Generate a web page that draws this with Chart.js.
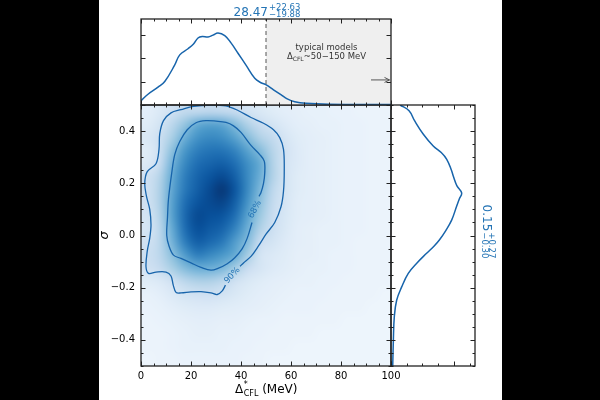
<!DOCTYPE html>
<html>
<head>
<meta charset="utf-8">
<script src="https://cdn.jsdelivr.net/npm/chart.js@4/dist/chart.umd.min.js"></script>
<style>
html, body { margin: 0; padding: 0; background: #000; }
#wrap { position: relative; width: 600px; height: 400px; background: #000; overflow: hidden; }
#paper { position: absolute; left: 99px; top: 0; width: 403px; height: 400px; background: #fff; }
canvas { position: absolute; left: 0; top: 0; }
</style>
</head>
<body>
<div id="wrap">
  <div id="paper"></div>
  <canvas id="main" width="600" height="400"></canvas>
  <canvas id="top" width="600" height="400"></canvas>
  <canvas id="side" width="600" height="400"></canvas>
</div>
<script>
const FONT = "'DejaVu Sans', sans-serif";
const LINE = '#1764ab';
const LABEL_BLUE = '#2474b5';

// marginal posterior of Delta_CFL (top panel)
const topMev = [0, 2.8, 6.8, 9.5, 13.5, 15.5, 18.8, 21, 22.8, 24.5, 26.8, 28.8, 30.8, 33.5, 36, 38.8, 42, 45.5, 48, 50.1, 53, 56.1, 58.5, 61.5, 66, 75, 100];
const topDensity = [0.18, 0.46, 0.76, 1.0, 1.71, 2.14, 2.4, 2.6, 2.86, 2.92, 2.9, 2.98, 3.07, 2.96, 2.65, 2.21, 1.7, 1.14, 0.95, 0.86, 0.65, 0.43, 0.26, 0.14, 0.07, 0.03, 0.02];

// marginal posterior of sigma (right panel)
const sideSigma = [0.5, 0.478, 0.44, 0.388, 0.343, 0.318, 0.292, 0.25, 0.227, 0.19, 0.163, 0.14, 0.112, 0.06, 0.02, -0.017, -0.04, -0.068, -0.106, -0.145, -0.197, -0.248, -0.312, -0.402, -0.5];
const sideDensity = [0.58, 1.15, 1.5, 2.06, 2.69, 3.2, 3.55, 3.85, 3.97, 4.2, 4.5, 4.35, 4.18, 3.87, 3.5, 3.08, 2.75, 2.27, 1.64, 1.1, 0.68, 0.36, 0.21, 0.15, 0.11];

// 2-D posterior, % of peak: rows = sigma bin centres (top to bottom), cols = MeV bin centres
const gridMev = [2.5, 7.5, 12.5, 17.5, 22.5, 27.5, 32.5, 37.5, 42.5, 47.5, 52.5, 57.5, 62.5, 67.5, 72.5, 77.5, 82.5, 87.5, 92.5, 97.5];
const gridSigma = [0.475, 0.425, 0.375, 0.325, 0.275, 0.225, 0.175, 0.125, 0.075, 0.025, -0.025, -0.075, -0.125, -0.175, -0.225, -0.275, -0.325, -0.375, -0.425, -0.475];
const density = [
  [10, 14, 20, 26, 26, 27, 26, 24, 19, 15, 12, 10, 9, 8, 8, 7, 7, 6, 6, 6],
  [12, 18, 28, 40, 52, 56, 54, 44, 32, 24, 18, 13, 10, 9, 8, 8, 7, 7, 6, 6],
  [15, 22, 34, 50, 62, 66, 64, 56, 44, 32, 26, 17, 12, 10, 9, 8, 7, 7, 6, 6],
  [12, 22, 42, 60, 70, 74, 74, 68, 56, 44, 30, 20, 13, 10, 9, 8, 7, 7, 6, 6],
  [14, 24, 48, 66, 76, 80, 82, 76, 64, 52, 32, 19, 13, 10, 9, 8, 7, 7, 6, 6],
  [20, 30, 52, 70, 80, 86, 90, 82, 66, 50, 32, 19, 12, 10, 9, 8, 7, 7, 6, 6],
  [20, 32, 54, 72, 82, 90, 97, 86, 66, 46, 28, 18, 12, 10, 9, 8, 7, 7, 6, 6],
  [20, 32, 56, 76, 86, 90, 92, 82, 62, 42, 26, 17, 11, 10, 9, 8, 7, 7, 6, 6],
  [18, 30, 56, 78, 90, 88, 86, 76, 56, 38, 24, 16, 11, 10, 9, 8, 7, 7, 6, 6],
  [17, 28, 52, 76, 88, 84, 80, 68, 50, 32, 22, 15, 10, 9, 8, 8, 7, 7, 6, 6],
  [20, 28, 48, 70, 82, 78, 72, 58, 44, 24, 18, 13, 10, 9, 8, 8, 7, 6, 6, 6],
  [22, 28, 42, 58, 70, 66, 60, 52, 36, 18, 14, 12, 9, 9, 8, 7, 7, 6, 6, 6],
  [20, 25, 34, 44, 50, 50, 46, 36, 24, 17, 13, 11, 9, 8, 8, 7, 7, 6, 6, 6],
  [12, 14, 20, 28, 32, 32, 28, 20, 15, 12, 10, 9, 8, 8, 7, 7, 6, 6, 6, 6],
  [8, 10, 14, 18, 20, 21, 19, 15, 12, 10, 9, 8, 7, 7, 7, 6, 6, 6, 6, 5],
  [7, 8, 10, 12, 13, 13, 12, 11, 10, 9, 8, 7, 7, 7, 6, 6, 6, 6, 5, 5],
  [6, 7, 8, 9, 10, 10, 9, 9, 8, 7, 7, 6, 6, 6, 6, 6, 5, 5, 5, 5],
  [6, 6, 7, 8, 9, 9, 8, 8, 7, 7, 6, 6, 6, 6, 5, 5, 5, 5, 5, 5],
  [6, 6, 7, 8, 8, 8, 8, 7, 7, 6, 6, 6, 5, 5, 5, 5, 5, 5, 5, 5],
  [5, 6, 6, 7, 7, 7, 7, 7, 6, 6, 5, 5, 5, 5, 5, 5, 5, 5, 5, 5]
];

// credible-region contours (open where the label sits)
const c68Mev = [44.4, 42.5, 40.5, 37.5, 34.5, 31, 28, 24, 20, 16, 13, 11.2, 10.3, 10.6, 11, 12.3, 13.5, 15.5, 18.5, 22, 26, 30, 34, 37, 40, 44, 47.5, 49.3, 49.5, 49, 48, 47.2];
const c68Sigma = [0.05, -0.01, -0.05, -0.085, -0.108, -0.125, -0.133, -0.122, -0.105, -0.088, -0.075, -0.04, 0.0, 0.07, 0.14, 0.24, 0.31, 0.36, 0.405, 0.432, 0.44, 0.438, 0.433, 0.42, 0.395, 0.345, 0.31, 0.285, 0.24, 0.2, 0.165, 0.15];
const c90Mev = [33.8, 32.5, 30.5, 28, 24, 20, 16, 14, 12.9, 12, 10, 6, 3, 2, 2.5, 3.5, 4, 3.5, 2.2, 1.5, 2.5, 6, 7.2, 7.5, 9, 12, 16, 21, 28, 34, 39, 44, 49, 53, 55.5, 57, 57.3, 57, 56, 53.5, 50, 47, 44, 41, 39.6];
const c90Sigma = [-0.19, -0.212, -0.226, -0.22, -0.215, -0.216, -0.22, -0.218, -0.19, -0.155, -0.14, -0.14, -0.145, -0.12, -0.06, -0.01, 0.04, 0.1, 0.15, 0.2, 0.245, 0.275, 0.33, 0.39, 0.44, 0.47, 0.482, 0.495, 0.5, 0.497, 0.478, 0.452, 0.43, 0.405, 0.375, 0.33, 0.25, 0.17, 0.11, 0.05, 0.005, -0.04, -0.08, -0.105, -0.118];

const mevTicks = [0, 20, 40, 60, 80, 100];
const sigmaTicks = [-0.4, -0.2, 0, 0.2, 0.4];
const topTicks = [0, 1, 2, 3];
const sideTicks = [0, 4];
const deltaSummary = ['28.47', '+22.63', '\u221219.88'];
const sigmaSummary = ['0.15', '+0.27', '\u22120.30'];
const modelBand = [50, 100];

const BLUES = [[247,251,255],[222,235,247],[198,219,239],[158,202,225],[107,174,214],[66,146,198],[33,113,181],[8,81,156],[8,48,107]];
function blues(t) {
  t = Math.max(0, Math.min(1, t));
  const p = t * 8, i = Math.min(7, Math.floor(p)), f = p - i;
  return BLUES[i].map((c, k) => Math.round(c + (BLUES[i + 1][k] - c) * f));
}
function steps(a, b, s) { const out = []; for (let v = a; v <= b + 1e-9; v += s) out.push(+v.toFixed(4)); return out; }
function pts(xs, ys) { return xs.map((x, i) => ({ x: x, y: ys[i] })); }

function frameTicks(cfg) {
  return {
    id: 'frameTicks',
    afterDraw(chart) {
      const { ctx, chartArea: a, scales: { x, y } } = chart;
      ctx.save();
      ctx.strokeStyle = '#222';
      ctx.lineWidth = 1;
      const seg = (x1, y1, x2, y2) => { ctx.beginPath(); ctx.moveTo(x1, y1); ctx.lineTo(x2, y2); ctx.stroke(); };
      [[cfg.xMajor, 4.5], [cfg.xMinor, 2.5]].forEach(([vals, len]) => vals.forEach(v => {
        const p = Math.round(x.getPixelForValue(v)) + 0.5;
        seg(p, a.bottom, p, a.bottom - len);
        seg(p, a.top, p, a.top + len);
      }));
      [[cfg.yMajor, 4.5], [cfg.yMinor, 2.5]].forEach(([vals, len]) => vals.forEach(v => {
        const p = Math.round(y.getPixelForValue(v)) + 0.5;
        seg(a.left, p, a.left + len, p);
        seg(a.right, p, a.right - len, p);
      }));
      ctx.lineWidth = 1.3;
      ctx.strokeRect(a.left, a.top, a.right - a.left, a.bottom - a.top);
      ctx.restore();
    }
  };
}

function drawScripted(ctx, cx, base, parts, big, small) {
  const [main, sup, sub] = parts;
  ctx.font = big + 'px ' + FONT;
  const wm = ctx.measureText(main).width;
  ctx.font = small + 'px ' + FONT;
  const ws = Math.max(ctx.measureText(sup).width, ctx.measureText(sub).width);
  const x0 = cx - (wm + ws + 1) / 2;
  ctx.textAlign = 'left';
  ctx.textBaseline = 'alphabetic';
  ctx.font = big + 'px ' + FONT;
  ctx.fillText(main, x0, base);
  ctx.font = small + 'px ' + FONT;
  ctx.fillText(sup, x0 + wm + 1, base - big * 0.5);
  ctx.fillText(sub, x0 + wm + 1, base + small * 0.15);
}

const heatmap = {
  id: 'heatmap',
  beforeDatasetsDraw(chart) {
    const { ctx, chartArea: a, scales: { x, y } } = chart;
    const nx = gridMev.length, ny = gridSigma.length;
    const off = document.createElement('canvas');
    off.width = nx; off.height = ny;
    const octx = off.getContext('2d');
    const img = octx.createImageData(nx, ny);
    for (let r = 0; r < ny; r++) for (let c = 0; c < nx; c++) {
      const col = blues(density[r][c] / 100), k = (r * nx + c) * 4;
      img.data[k] = col[0]; img.data[k + 1] = col[1]; img.data[k + 2] = col[2]; img.data[k + 3] = 255;
    }
    octx.putImageData(img, 0, 0);
    const hx = (gridMev[1] - gridMev[0]) / 2, hy = (gridSigma[0] - gridSigma[1]) / 2;
    const x0 = x.getPixelForValue(gridMev[0] - hx), x1 = x.getPixelForValue(gridMev[nx - 1] + hx);
    const y0 = y.getPixelForValue(gridSigma[0] + hy), y1 = y.getPixelForValue(gridSigma[ny - 1] - hy);
    ctx.save();
    ctx.beginPath(); ctx.rect(a.left, a.top, a.right - a.left, a.bottom - a.top); ctx.clip();
    ctx.fillStyle = 'rgb(' + blues(0.06).join(',') + ')';
    ctx.fillRect(a.left, a.top, a.right - a.left, a.bottom - a.top);
    ctx.imageSmoothingEnabled = true;
    ctx.imageSmoothingQuality = 'high';
    ctx.drawImage(off, x0, y0, x1 - x0, y1 - y0);
    ctx.restore();
  },
  afterDatasetsDraw(chart) {
    const { ctx, scales: { x, y } } = chart;
    ctx.save();
    ctx.fillStyle = LABEL_BLUE;
    ctx.font = '8.5px ' + FONT;
    ctx.textAlign = 'center';
    ctx.textBaseline = 'middle';
    [['68%', 45.6, 0.1, -62], ['90%', 36.5, -0.153, -47]].forEach(([t, mx, sy, ang]) => {
      ctx.save();
      ctx.translate(x.getPixelForValue(mx), y.getPixelForValue(sy));
      ctx.rotate(ang * Math.PI / 180);
      ctx.fillText(t, 0, 0);
      ctx.restore();
    });
    ctx.restore();
  },
  afterDraw(chart) {
    const { ctx, chartArea: a } = chart;
    ctx.save();
    ctx.fillStyle = '#000';
    // x title: Delta*_CFL (MeV)
    const cx = (a.left + a.right) / 2, base = 393;
    ctx.textAlign = 'left'; ctx.textBaseline = 'alphabetic';
    ctx.font = '12px ' + FONT;
    const wD = ctx.measureText('\u0394').width, wR = ctx.measureText(' (MeV)').width;
    ctx.font = '8px ' + FONT;
    const wS = Math.max(ctx.measureText('*').width, ctx.measureText('CFL').width);
    const x0 = cx - (wD + wS + wR) / 2;
    ctx.font = '12px ' + FONT;
    ctx.fillText('\u0394', x0, base);
    ctx.fillText(' (MeV)', x0 + wD + wS + 0.5, base);
    ctx.font = '8px ' + FONT;
    ctx.fillText('*', x0 + wD + 0.5, base - 6);
    ctx.fillText('CFL', x0 + wD + 0.5, base + 2.5);
    // y title: sigma
    ctx.save();
    ctx.translate(108, (a.top + a.bottom) / 2);
    ctx.rotate(-Math.PI / 2);
    ctx.textAlign = 'center';
    ctx.font = 'italic 13px ' + FONT;
    ctx.fillText('\u03c3', 0, 0);
    ctx.restore();
    ctx.restore();
  }
};

const fmtSigma = v => (Math.abs(v) < 1e-9 ? '0.0' : (v < 0 ? '\u2212' : '') + Math.abs(v).toFixed(1));

new Chart(document.getElementById('main'), {
  type: 'scatter',
  data: {
    datasets: [
      { data: pts(c90Mev, c90Sigma), showLine: true, borderColor: LINE, borderWidth: 1.3, pointRadius: 0, tension: 0.35 },
      { data: pts(c68Mev, c68Sigma), showLine: true, borderColor: LINE, borderWidth: 1.3, pointRadius: 0, tension: 0.35 }
    ]
  },
  options: {
    responsive: false, animation: false, devicePixelRatio: 1,
    layout: { padding: { left: 111, right: 209, top: 105, bottom: 14 } },
    plugins: { legend: { display: false }, tooltip: { enabled: false } },
    scales: {
      x: {
        type: 'linear', min: 0, max: 100,
        afterBuildTicks: s => { s.ticks = mevTicks.map(v => ({ value: v })); },
        afterFit: s => { s.height = 20; },
        grid: { display: false, drawTicks: false }, border: { display: false },
        ticks: { font: { family: FONT, size: 10 }, color: '#000', padding: 4, maxRotation: 0, autoSkip: false }
      },
      y: {
        type: 'linear', min: -0.5, max: 0.5,
        afterBuildTicks: s => { s.ticks = sigmaTicks.map(v => ({ value: v })); },
        afterFit: s => { s.width = 30; },
        grid: { display: false, drawTicks: false }, border: { display: false },
        ticks: { font: { family: FONT, size: 10 }, color: '#000', padding: 6, autoSkip: false, callback: v => fmtSigma(v) }
      }
    }
  },
  plugins: [heatmap, frameTicks({ xMajor: mevTicks, xMinor: steps(0, 100, 5), yMajor: sigmaTicks, yMinor: steps(-0.5, 0.5, 0.05) })]
});

const TOP_YMAX = 3.67;
const topText = {
  id: 'topText',
  afterDraw(chart) {
    const { ctx, chartArea: a, scales: { x, y } } = chart;
    ctx.save();
    ctx.fillStyle = LABEL_BLUE;
    drawScripted(ctx, (a.left + a.right) / 2 + 1, 15.5, deltaSummary, 12, 8.5);
    // annotation in shaded band
    const cx = x.getPixelForValue((modelBand[0] + modelBand[1]) / 2) - 2;
    ctx.fillStyle = '#333';
    ctx.textAlign = 'center'; ctx.textBaseline = 'alphabetic';
    ctx.font = '8.5px ' + FONT;
    ctx.fillText('typical models', cx, 50);
    const s1 = '\u0394', s2 = 'CFL', s3 = '~50\u2212150 MeV';
    const w1 = ctx.measureText(s1).width, w3 = ctx.measureText(s3).width;
    ctx.font = '6px ' + FONT;
    const w2 = ctx.measureText(s2).width;
    let sx = cx - (w1 + w2 + w3) / 2;
    ctx.textAlign = 'left';
    ctx.font = '8.5px ' + FONT;
    ctx.fillText(s1, sx, 59);
    ctx.font = '6px ' + FONT;
    ctx.fillText(s2, sx + w1, 61);
    ctx.font = '8.5px ' + FONT;
    ctx.fillText(s3, sx + w1 + w2, 59);
    // arrow pointing to higher gaps
    const ay = y.getPixelForValue(1.07), ax0 = x.getPixelForValue(92), ax1 = x.getPixelForValue(99.4);
    ctx.strokeStyle = '#555'; ctx.lineWidth = 1;
    ctx.beginPath();
    ctx.moveTo(ax0, ay); ctx.lineTo(ax1, ay);
    ctx.moveTo(ax1 - 5, ay - 2.5); ctx.lineTo(ax1, ay); ctx.lineTo(ax1 - 5, ay + 2.5);
    ctx.stroke();
    ctx.restore();
  }
};

new Chart(document.getElementById('top'), {
  type: 'scatter',
  data: {
    datasets: [
      { data: pts(modelBand, [TOP_YMAX, TOP_YMAX]), showLine: true, fill: 'origin', backgroundColor: '#efefef', borderWidth: 0, pointRadius: 0, order: 3 },
      { data: pts([modelBand[0], modelBand[0]], [0, TOP_YMAX]), showLine: true, borderColor: '#555', borderWidth: 1, borderDash: [4, 3], pointRadius: 0, order: 2 },
      { data: pts(topMev, topDensity), showLine: true, borderColor: LINE, borderWidth: 1.5, pointRadius: 0, tension: 0.4, order: 1 }
    ]
  },
  options: {
    responsive: false, animation: false, devicePixelRatio: 1,
    layout: { padding: { left: 141, right: 209, top: 19, bottom: 295 } },
    plugins: { legend: { display: false }, tooltip: { enabled: false } },
    scales: {
      x: { type: 'linear', min: 0, max: 100, display: false },
      y: { type: 'linear', min: 0, max: TOP_YMAX, display: false }
    }
  },
  plugins: [topText, frameTicks({ xMajor: mevTicks, xMinor: steps(0, 100, 5), yMajor: topTicks, yMinor: [] })]
});

const SIDE_XMAX = 5.35;
const sideText = {
  id: 'sideText',
  afterDraw(chart) {
    const { ctx, chartArea: a } = chart;
    ctx.save();
    ctx.fillStyle = LABEL_BLUE;
    ctx.translate(483, (a.top + a.bottom) / 2 - 4);
    ctx.rotate(Math.PI / 2);
    drawScripted(ctx, 0, 0, sigmaSummary, 12, 8.5);
    ctx.restore();
  }
};

new Chart(document.getElementById('side'), {
  type: 'scatter',
  data: {
    datasets: [
      { data: pts(sideDensity, sideSigma), showLine: true, borderColor: LINE, borderWidth: 1.5, pointRadius: 0, tension: 0.4 }
    ]
  },
  options: {
    responsive: false, animation: false, devicePixelRatio: 1,
    layout: { padding: { left: 391, right: 125, top: 105, bottom: 34 } },
    plugins: { legend: { display: false }, tooltip: { enabled: false } },
    scales: {
      x: { type: 'linear', min: 0, max: SIDE_XMAX, display: false },
      y: { type: 'linear', min: -0.5, max: 0.5, display: false }
    }
  },
  plugins: [sideText, frameTicks({ xMajor: sideTicks, xMinor: steps(0, 5, 1), yMajor: sigmaTicks, yMinor: steps(-0.5, 0.5, 0.05) })]
});
</script>
</body>
</html>
